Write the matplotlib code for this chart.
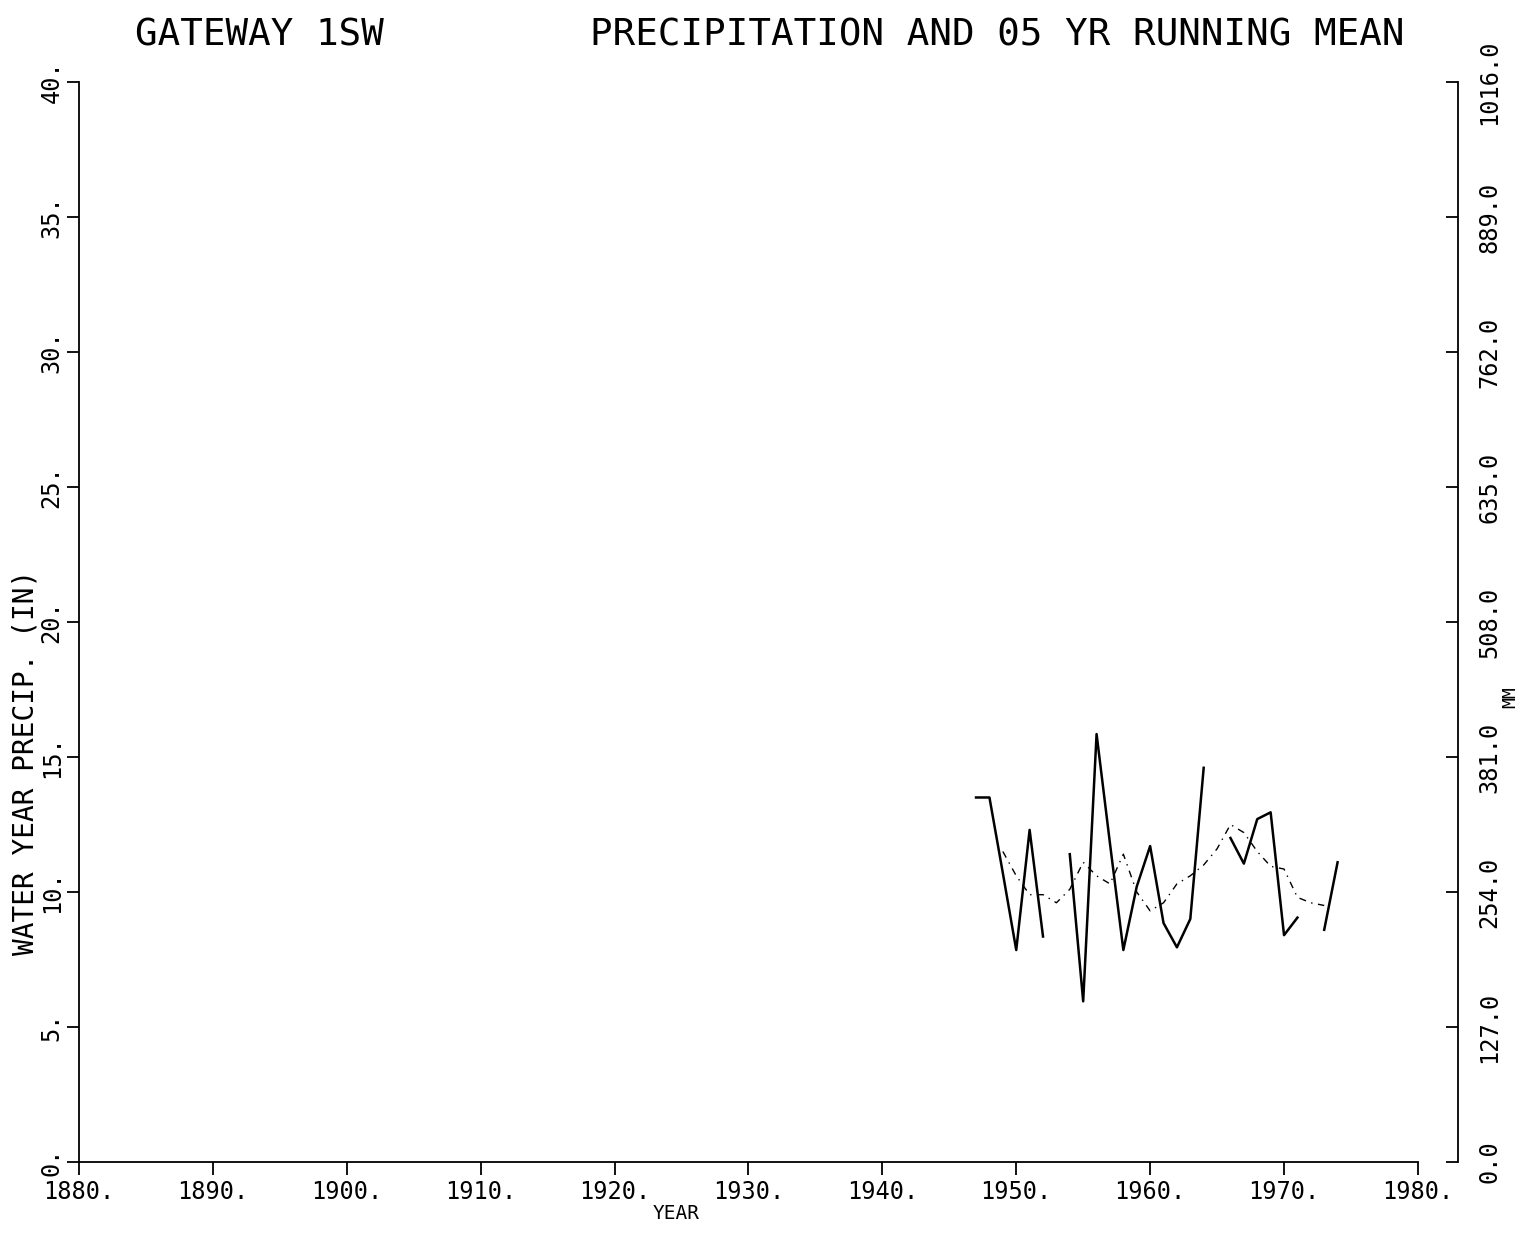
import numpy as np
import matplotlib
matplotlib.use('Agg')
import matplotlib.pyplot as plt

# annual water-year precipitation (inches), NaN = missing year
years = [1947, 1948, 1949, 1950, 1951, 1952, 1953, 1954, 1955, 1956,
         1957, 1958, 1959, 1960, 1961, 1962, 1963, 1964, 1965, 1966,
         1967, 1968, 1969, 1970, 1971, 1972, 1973, 1974]
precip = [13.5, 13.5, 10.7, 7.85, 12.3, 8.35, np.nan, 11.4, 5.95, 15.85,
          11.8, 7.85, 10.2, 11.7, 8.85, 7.95, 9.0, 14.6, np.nan, 12.0,
          11.05, 12.7, 12.95, 8.4, 9.05, np.nan, 8.6, 11.1]

# 5 yr running mean (inches)
mean_years = [1949, 1950, 1951, 1952, 1953, 1954, 1955, 1956, 1957, 1958,
              1959, 1960, 1961, 1962, 1963, 1964, 1965, 1966, 1967, 1968,
              1969, 1970, 1971, 1972, 1973]
mean_vals = [11.5, 10.6, 9.9, 9.9, 9.6, 10.1, 11.1, 10.6, 10.3, 11.4,
             10.0, 9.3, 9.6, 10.3, 10.6, 11.0, 11.6, 12.5, 12.2, 11.5,
             10.95, 10.85, 9.8, 9.6, 9.5]

xticks = [1880, 1890, 1900, 1910, 1920, 1930, 1940, 1950, 1960, 1970, 1980]
yticks_in = [0, 5, 10, 15, 20, 25, 30, 35, 40]
yticks_mm = [0.0, 127.0, 254.0, 381.0, 508.0, 635.0, 762.0, 889.0, 1016.0]

font = 'DejaVu Sans Mono'
plt.rcParams['font.family'] = font

fig = plt.figure(figsize=(15.24, 12.33), dpi=100)
ax = fig.add_axes([0.0518, 0.0576, 0.8786, 0.8759])

ax.plot(years, precip, color='black', lw=1.8)
ax.plot(mean_years, mean_vals, color='black', lw=1.0, linestyle=(0, (5, 4, 1, 4)))

ax.set_xlim(1880, 1980)
ax.set_ylim(0, 40)
ax.tick_params(direction='out', length=9, width=1.3, pad=2, labelsize=17)
ax.tick_params(axis='x', pad=4)
ax.tick_params(axis='y', labelrotation=90)
ax.set_xticks(xticks)
ax.set_xticklabels([f'{t}.' for t in xticks])
ax.set_yticks(yticks_in)
ax.set_yticklabels([f'{t}.' for t in yticks_in], va='center')

for s in ['top', 'right']:
    ax.spines[s].set_visible(False)
for s in ['left', 'bottom']:
    ax.spines[s].set_linewidth(1.3)

# metric axis on the right
ax2 = ax.twinx()
ax2.set_ylim(0, 1016.0)
ax2.spines['right'].set_position(('axes', 1.03))
ax2.spines['right'].set_linewidth(1.3)
for s in ['top', 'left', 'bottom']:
    ax2.spines[s].set_visible(False)
ax2.tick_params(direction='in', length=9, width=1.3, pad=14, labelsize=17,
                labelrotation=90)
ax2.set_yticks(yticks_mm)
ax2.set_yticklabels([f'{t:.1f}' for t in yticks_mm], va='center')

fig.text(0.0886, 0.971, 'GATEWAY 1SW', fontsize=27, va='center', ha='left')
fig.text(0.387, 0.971, 'PRECIPITATION AND 05 YR RUNNING MEAN', fontsize=27,
         va='center', ha='left')
fig.text(0.0165, 0.382, 'WATER YEAR PRECIP. (IN)', fontsize=20, rotation=90,
         va='center', ha='center')
fig.text(0.4436, 0.008, 'YEAR', fontsize=14, va='bottom', ha='center')
fig.text(0.991, 0.435, 'MM', fontsize=13, rotation=90, va='center', ha='center')

fig.savefig('out.png', dpi=100, facecolor='white')
